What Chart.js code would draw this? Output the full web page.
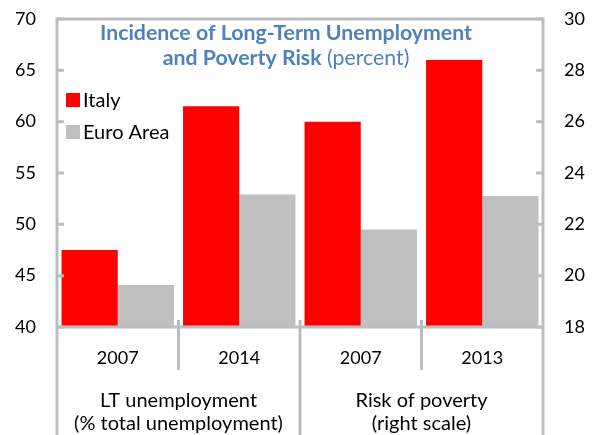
<!DOCTYPE html>
<html lang="en">
<head>
<meta charset="UTF-8">
<title>Long-Term Unemployment and Poverty Risk</title>
<script src="https://cdn.jsdelivr.net/npm/chart.js"></script>
<style>
    body {
        margin: 0;
        padding: 0;
        background: #fff;
    }
    .container {
        width: 592px;
        height: 435px;
        position: relative;
    }
</style>
</head>
<body>
<div class="container">
    <canvas id="incidenceChart" width="592" height="435"></canvas>
</div>

<script>
    var categories = ['2007', '2014', '2007', '2013'];
    var groupLabels = [['LT unemployment', '(% total unemployment)'], ['Risk of poverty', '(right scale)']];

    // left scale: long-term unemployment (% of total unemployment)
    var italyUnemployment = [47.5, 61.5];
    var euroUnemployment = [44.1, 52.9];
    // right scale: risk of poverty
    var italyPoverty = [26.0, 28.4];
    var euroPoverty = [21.8, 23.1];

    var leftTicks = [40, 45, 50, 55, 60, 65, 70];
    var rightTicks = [18, 20, 22, 24, 26, 28, 30];

    var FONT = 'Lato, "Open Sans", sans-serif';
    var RED = '#ff0000';
    var GREY = '#bfbfbf';
    var LINE = '#bdbdbd';

    function padLeft(arr) { return arr.concat([null, null]); }
    function padRight(arr) { return [null, null].concat(arr); }

    // fixed axis widths; the frame is drawn by hand so no label overflow padding
    function fitY(width) {
        return function(scale) {
            scale.width = width;
            scale.paddingTop = 0;
            scale.paddingBottom = 0;
        };
    }

    // frame, tick marks, separators, title, legend and group labels
    var decorations = {
        id: 'decorations',
        afterDraw: function(chart) {
            var ctx = chart.ctx;
            var a = chart.chartArea;
            var yL = chart.scales.yLeft;
            var yR = chart.scales.yRight;
            var H = chart.height;

            ctx.save();
            ctx.strokeStyle = LINE;
            ctx.lineWidth = 3;
            ctx.lineCap = 'butt';

            // box
            ctx.beginPath();
            ctx.moveTo(a.left, a.bottom);
            ctx.lineTo(a.right, a.bottom);
            ctx.moveTo(a.left, a.top);
            ctx.lineTo(a.right, a.top);
            ctx.moveTo(a.left, a.top - 1.5);
            ctx.lineTo(a.left, H);
            ctx.moveTo(a.right, a.top - 1.5);
            ctx.lineTo(a.right, H);
            ctx.stroke();

            // inward ticks
            ctx.beginPath();
            leftTicks.forEach(function(v) {
                var py = yL.getPixelForValue(v);
                ctx.moveTo(a.left, py);
                ctx.lineTo(a.left + 7, py);
            });
            rightTicks.forEach(function(v) {
                var py = yR.getPixelForValue(v);
                ctx.moveTo(a.right, py);
                ctx.lineTo(a.right - 7, py);
            });
            ctx.stroke();

            // separators between categories
            var step = (a.right - a.left) / categories.length;
            ctx.beginPath();
            for (var i = 1; i < categories.length; i++) {
                var sx = a.left + step * i;
                ctx.moveTo(sx, a.bottom - 7);
                ctx.lineTo(sx, i === 2 ? H : a.bottom + 43);
            }
            ctx.stroke();

            // group labels under the years
            ctx.fillStyle = '#000';
            ctx.font = '20px ' + FONT;
            ctx.textAlign = 'center';
            ctx.textBaseline = 'middle';
            groupLabels.forEach(function(lines, g) {
                var cx = a.left + step * (g * 2 + 1);
                ctx.fillText(lines[0], cx, 401);
                ctx.fillText(lines[1], cx, 424);
            });

            // title
            var tx = 286;
            var tSize = 21.3;
            ctx.fillStyle = '#4f81bd';
            ctx.font = 'bold ' + tSize + 'px ' + FONT;
            ctx.textBaseline = 'alphabetic';
            ctx.fillText('Incidence of Long-Term Unemployment', tx, 40);
            var boldPart = 'and Poverty Risk';
            var plainPart = ' (percent)';
            var wB = ctx.measureText(boldPart).width;
            ctx.font = tSize + 'px ' + FONT;
            var wP = ctx.measureText(plainPart).width;
            var sx0 = tx - (wB + wP) / 2;
            ctx.textAlign = 'left';
            ctx.font = 'bold ' + tSize + 'px ' + FONT;
            ctx.fillText(boldPart, sx0, 65);
            ctx.font = tSize + 'px ' + FONT;
            ctx.fillText(plainPart, sx0 + wB, 65);

            // legend
            var legend = [['Italy', RED, 93], ['Euro Area', GREY, 125]];
            ctx.font = '20px ' + FONT;
            legend.forEach(function(item) {
                ctx.fillStyle = item[1];
                ctx.fillRect(66, item[2], 14, 14);
                ctx.fillStyle = '#000';
                ctx.textBaseline = 'middle';
                ctx.fillText(item[0], 83, item[2] + 7.5);
            });
            ctx.restore();
        }
    };

    var ctx = document.getElementById('incidenceChart').getContext('2d');
    var incidenceChart = new Chart(ctx, {
        type: 'bar',
        data: {
            labels: categories,
            datasets: [
                { label: 'Italy', data: padLeft(italyUnemployment), backgroundColor: RED, yAxisID: 'yLeft' },
                { label: 'Euro Area', data: padLeft(euroUnemployment), backgroundColor: GREY, yAxisID: 'yLeft' },
                { label: 'Italy', data: padRight(italyPoverty), backgroundColor: RED, yAxisID: 'yRight' },
                { label: 'Euro Area', data: padRight(euroPoverty), backgroundColor: GREY, yAxisID: 'yRight' }
            ]
        },
        options: {
            responsive: false,
            animation: false,
            layout: { padding: { top: 19, left: 0, right: 0, bottom: 0 } },
            datasets: {
                bar: {
                    skipNull: true,
                    barPercentage: 1,
                    categoryPercentage: 0.925,
                    borderWidth: 0
                }
            },
            plugins: {
                legend: { display: false },
                title: { display: false },
                tooltip: { enabled: false }
            },
            scales: {
                x: {
                    grid: { display: false, drawTicks: false },
                    border: { display: false },
                    ticks: { color: '#000', font: { family: FONT, size: 18 }, padding: 20 },
                    afterFit: function(scale) { scale.height = 108; }
                },
                yLeft: {
                    position: 'left',
                    min: 40,
                    max: 70,
                    grid: { display: false, drawTicks: false },
                    border: { display: false },
                    ticks: { stepSize: 5, color: '#000', font: { family: FONT, size: 18 }, padding: 21 },
                    afterFit: fitY(57)
                },
                yRight: {
                    position: 'right',
                    min: 18,
                    max: 30,
                    grid: { display: false, drawTicks: false },
                    border: { display: false },
                    ticks: { stepSize: 2, color: '#000', font: { family: FONT, size: 18 }, padding: 21 },
                    afterFit: fitY(49)
                }
            }
        },
        plugins: [decorations]
    });
</script>
</body>
</html>
